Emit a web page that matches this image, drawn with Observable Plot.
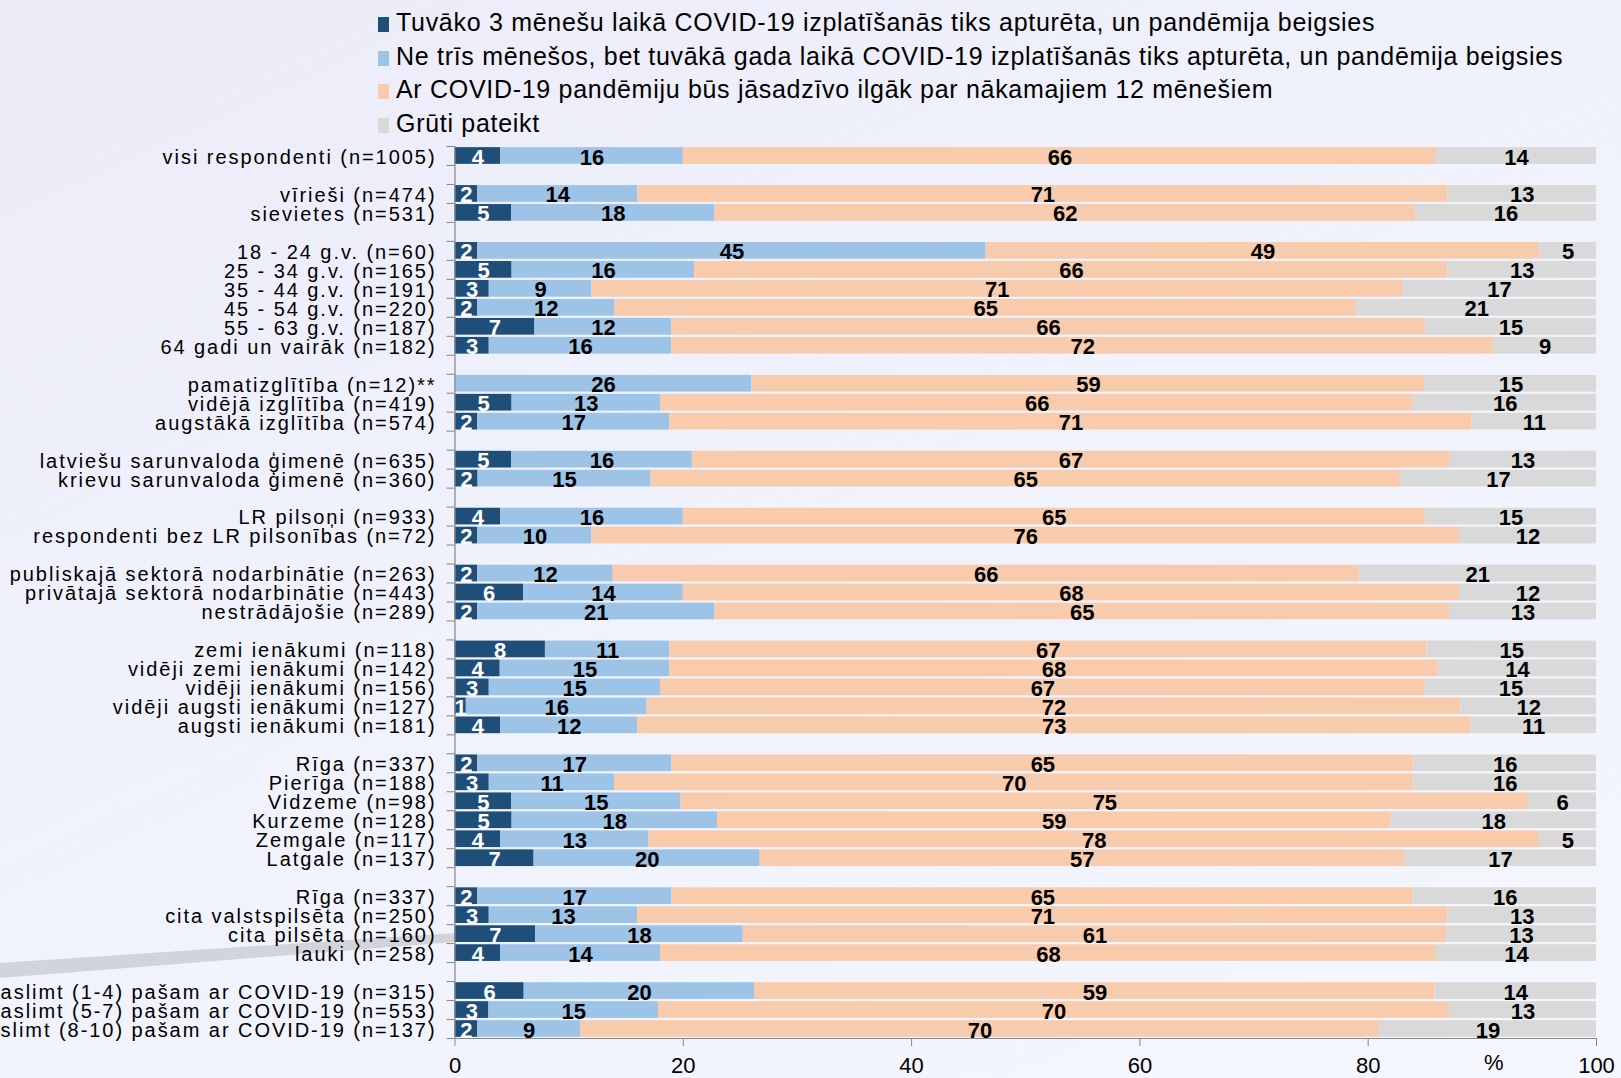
<!DOCTYPE html>
<html><head><meta charset="utf-8">
<script src="https://cdn.jsdelivr.net/npm/d3@7"></script>
<script src="https://cdn.jsdelivr.net/npm/@observablehq/plot@0.6"></script>
<style>
html,body{margin:0;padding:0;}
body{position:relative;width:1621px;height:1078px;overflow:hidden;background:linear-gradient(155deg,#ebecf8 0%,#f0f2fc 50%,#f5f7fe 100%);font-family:"Liberation Sans",Arial,sans-serif;}
#swoosh{position:absolute;left:0;top:0;width:1621px;height:1078px;background:#d2d4dc;clip-path:polygon(0px 963px,455px 933px,455px 942px,0px 978px);z-index:0;}
#legend{position:relative;z-index:1;height:140px;box-sizing:border-box;padding-top:6px;padding-left:378px;}
.item{height:33.7px;line-height:33.7px;font-size:25px;letter-spacing:0.7px;color:#000;white-space:nowrap;}
.sw{display:inline-block;width:11px;height:15px;margin-right:7px;vertical-align:-1px;}
#chart{position:relative;z-index:1;}
#chart svg{display:block;}
</style></head><body>
<div id="swoosh"></div>
<div id="legend"></div>
<div id="chart"></div>
<script>
const seriesNames = [
  "Tuvāko 3 mēnešu laikā COVID-19 izplatīšanās tiks apturēta, un pandēmija beigsies",
  "Ne trīs mēnešos, bet tuvākā gada laikā COVID-19 izplatīšanās tiks apturēta, un pandēmija beigsies",
  "Ar COVID-19 pandēmiju būs jāsadzīvo ilgāk par nākamajiem 12 mēnešiem",
  "Grūti pateikt"
];
const seriesColors = ["#1f4e79", "#9dc3e6", "#f8cbad", "#d9d9d9"];
const categories = [
  "visi respondenti (n=1005)",
  "vīrieši (n=474)", "sievietes (n=531)",
  "18 - 24 g.v. (n=60)", "25 - 34 g.v. (n=165)", "35 - 44 g.v. (n=191)", "45 - 54 g.v. (n=220)", "55 - 63 g.v. (n=187)", "64 gadi un vairāk (n=182)",
  "pamatizglītība (n=12)**", "vidējā izglītība (n=419)", "augstākā izglītība (n=574)",
  "latviešu sarunvaloda ģimenē (n=635)", "krievu sarunvaloda ģimenē (n=360)",
  "LR pilsoņi (n=933)", "respondenti bez LR pilsonības (n=72)",
  "publiskajā sektorā nodarbinātie (n=263)", "privātajā sektorā nodarbinātie (n=443)", "nestrādājošie (n=289)",
  "zemi ienākumi (n=118)", "vidēji zemi ienākumi (n=142)", "vidēji ienākumi (n=156)", "vidēji augsti ienākumi (n=127)", "augsti ienākumi (n=181)",
  "Rīga (n=337)", "Pierīga (n=188)", "Vidzeme (n=98)", "Kurzeme (n=128)", "Zemgale (n=117)", "Latgale (n=137)",
  "Rīga (n=337)", "cita valstspilsēta (n=250)", "cita pilsēta (n=160)", "lauki (n=258)",
  "aslimt (1-4) pašam ar COVID-19 (n=315)", "aslimt (5-7) pašam ar COVID-19 (n=553)", "slimt (8-10) pašam ar COVID-19 (n=137)"
];
const groupSizes = [1, 2, 6, 3, 2, 2, 3, 5, 6, 4, 3];
const s1 = [4, 2, 5, 2, 5, 3, 2, 7, 3, 0, 5, 2, 5, 2, 4, 2, 2, 6, 2, 8, 4, 3, 1, 4, 2, 3, 5, 5, 4, 7, 2, 3, 7, 4, 6, 3, 2];
const s2 = [16, 14, 18, 45, 16, 9, 12, 12, 16, 26, 13, 17, 16, 15, 16, 10, 12, 14, 21, 11, 15, 15, 16, 12, 17, 11, 15, 18, 13, 20, 17, 13, 18, 14, 20, 15, 9];
const s3 = [66, 71, 62, 49, 66, 71, 65, 66, 72, 59, 66, 71, 67, 65, 65, 76, 66, 68, 65, 67, 68, 67, 72, 73, 65, 70, 75, 59, 78, 57, 65, 71, 61, 68, 59, 70, 70];
const s4 = [14, 13, 16, 5, 13, 17, 21, 15, 9, 15, 16, 11, 13, 17, 15, 12, 21, 12, 13, 15, 14, 15, 12, 11, 16, 16, 6, 18, 5, 17, 16, 13, 13, 14, 14, 13, 19];
const xTicks = [0, 20, 40, 60, 80, 100];
const axisUnit = "%";

// legend
const legend = document.getElementById("legend");
seriesNames.forEach((name, i) => {
  const div = document.createElement("div");
  div.className = "item";
  const sw = document.createElement("span");
  sw.className = "sw";
  sw.style.background = seriesColors[i];
  div.appendChild(sw);
  div.appendChild(document.createTextNode(name));
  legend.appendChild(div);
});

// slot positions (one empty slot between groups)
const slots = [];
let slot = 0;
groupSizes.forEach(n => {
  for (let j = 0; j < n; j++) slots.push(slot++);
  slot++;
});
const nSlots = slot - 1;
const boundaries = d3.range(nSlots + 1).map(i => i - 0.5);

const rows = categories.map((label, i) => ({label, slot: slots[i], values: [s1[i], s2[i], s3[i], s4[i]]}));
const segments = [];
rows.forEach(r => {
  const total = d3.sum(r.values);
  let acc = 0;
  r.values.forEach((v, si) => {
    const x1 = acc / total * 100;
    acc += v;
    const x2 = acc / total * 100;
    segments.push({label: r.label, slot: r.slot, series: si, value: v, x1, x2});
  });
});

const half = 0.44;
const plot = Plot.plot({
  width: 1621,
  height: 938,
  marginLeft: 454.5,
  marginRight: 25,
  marginTop: 6,
  marginBottom: 40,
  style: {background: "transparent", fontFamily: "Liberation Sans, Arial, sans-serif", fontSize: "22px", color: "#000"},
  x: {domain: [0, 100]},
  y: {domain: [-0.5, nSlots - 0.5], reverse: true},
  color: {domain: [0, 1, 2, 3], range: seriesColors},
  marks: [
    Plot.rect(segments, {x1: "x1", x2: "x2", y1: d => d.slot - half, y2: d => d.slot + half, fill: "series"}),
    Plot.text(segments.filter(d => d.value > 0), {
      x: d => (d.x1 + d.x2) / 2, y: "slot", text: d => String(d.value),
      fill: d => d.series === 0 ? "#ffffff" : "#000000",
      fontWeight: "bold", fontSize: 22, dy: 1.5
    }),
    Plot.text(rows, {x: 0, y: "slot", text: "label", textAnchor: "end", dx: -18.5, fontSize: 20, dy: 1.5, fill: "#000"}),
    Plot.ruleX([0], {stroke: "#868686", strokeWidth: 1.2}),
    Plot.ruleY([nSlots - 0.5], {stroke: "#868686", strokeWidth: 1.2}),
    Plot.axisY({ticks: boundaries, tickFormat: () => "", tickSize: 8, stroke: "#868686", label: null}),
    Plot.axisX({ticks: xTicks, tickSize: 8, tickPadding: 11, stroke: "#868686", fontSize: 22, label: null}),
    Plot.axisX({ticks: [91], tickFormat: () => axisUnit, tickSize: 0, tickPadding: 16, fontSize: 22, label: null})
  ]
});
document.getElementById("chart").appendChild(plot);
// letter spacing on category labels
d3.select(plot).selectAll('g[aria-label="text"][text-anchor="end"] text').attr("letter-spacing", "1.95px");
</script>
</body></html>
